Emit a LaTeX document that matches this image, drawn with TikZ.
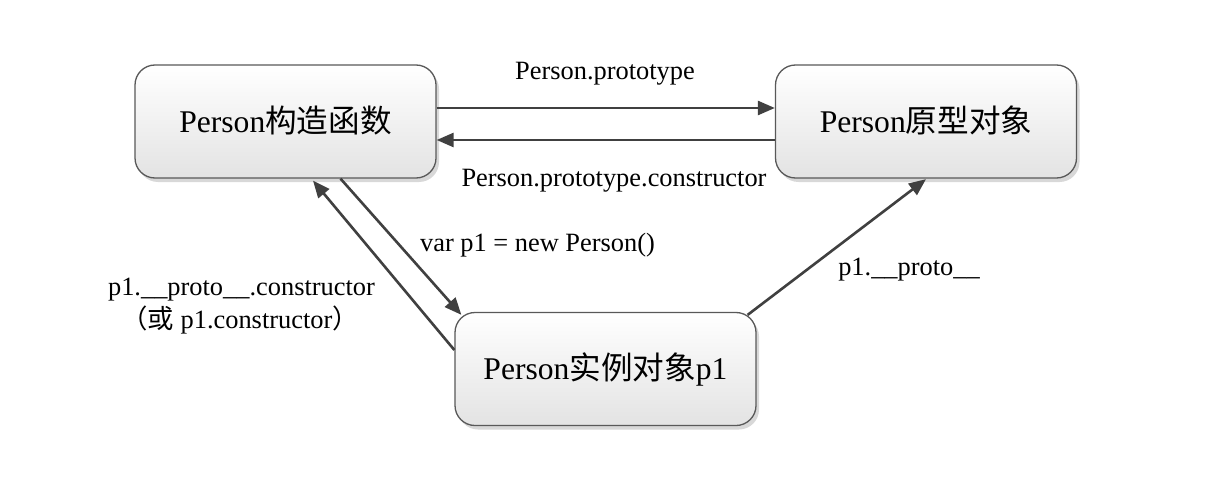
\documentclass[tikz,border=0pt]{standalone}
\usepackage{fontspec}
\setmainfont{Liberation Serif}
\newfontfamily\cjk{Noto Sans CJK SC}
\usetikzlibrary{arrows.meta,shadows,calc}
\begin{document}
\begin{tikzpicture}[x=1pt,y=-1pt,
  box/.style={draw=black!65, line width=1.3pt, rounded corners=20pt,
    top color=white, bottom color=black!11,
    drop shadow={shadow xshift=3pt,shadow yshift=-4pt,fill=black!30,opacity=0.5},
    minimum width=301pt, minimum height=113pt, text height=21pt, text depth=0pt,
    font=\fontsize{31.6}{36}\selectfont, inner sep=0pt},
  lbl/.style={font=\fontsize{26.4}{30}\selectfont, anchor=base, inner sep=0pt},
  conn/.style={draw=black!75, line width=2.6pt, -{Triangle[length=17pt,width=14pt]}}]
\useasboundingbox[fill=white] (0,0) rectangle (1214,484);

\node[box] (A) at (285.5,121.5) {Person{\cjk 构造函数}};
\node[box] (B) at (926,121.5) {Person{\cjk 原型对象}};
\node[box] (C) at (605.5,369) {Person{\cjk 实例对象}p1};

\draw[conn] ([yshift=13.5pt]A.east) -- ([yshift=13.5pt]B.west);
\draw[conn] ([yshift=-18.5pt]B.west) -- ([yshift=-18.5pt]A.east);
\draw[conn] ([xshift=55pt]A.south) -- ([xshift=7pt,yshift=-3pt]C.north west);
\draw[conn] ([yshift=19pt]C.west) -- ([xshift=27.5pt,yshift=-2pt]A.south);
\draw[conn] ([xshift=-9pt,yshift=-3pt]C.north east) -- ([yshift=-0.5pt]B.south);

\node[lbl] (l1) at (605,80) {Person.prototype};
\node[lbl] (l2) at (614,186) {Person.prototype.constructor};
\node[lbl] (l3) at (537.5,251.5) {var p1 = new Person()};
\node[lbl] (l4) at (909,275) {p1.\_\_proto\_\_};
\node[lbl] (l5) at (241.5,295) {p1.\_\_proto\_\_.constructor};
\node[lbl] (l6) at (240,328) {{\cjk （或}~p1.constructor{\cjk ）}};
\end{tikzpicture}
\end{document}
